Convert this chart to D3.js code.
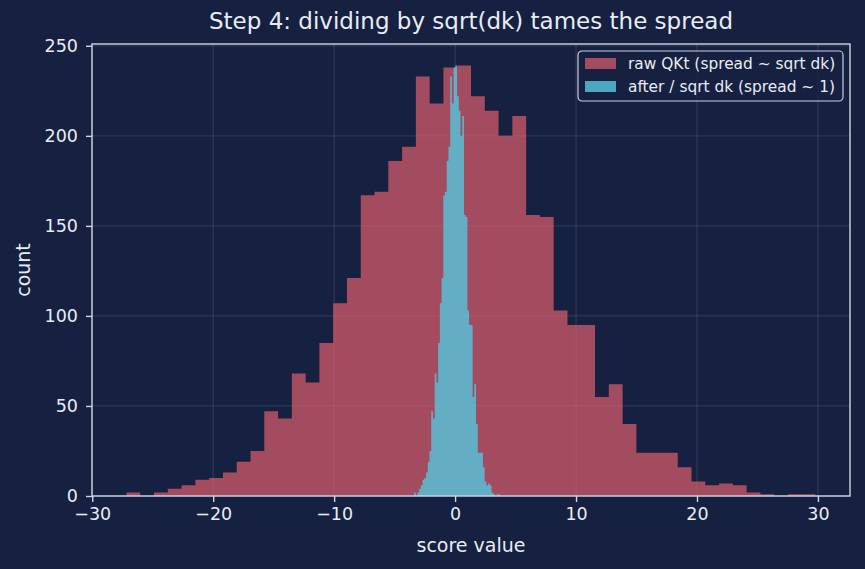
<!DOCTYPE html>
<html lang="en">
<head>
    <meta charset="UTF-8">
    <title>Step 4: dividing by sqrt(dk) tames the spread</title>
    <script src="https://d3js.org/d3.v7.min.js"></script>
    <style>
      body { margin: 0; background: #162040; }
      text { font-family: "DejaVu Sans", sans-serif; fill: #e8ecf3; }
    </style>
</head>
<body>
  <script>

    // histogram counts, 50 bins each
    var rawCounts = [2, 0, 2, 4, 6, 9, 10, 13, 19, 25,
                     47, 43, 68, 63, 85, 107, 121, 167, 169, 186,
                     194, 233, 218, 238, 239, 222, 214, 200, 211, 156,
                     155, 103, 95, 95, 55, 62, 40, 24, 24, 24,
                     16, 8, 6, 7, 6, 2, 1, 0, 1, 1];
    var scaledCounts = [2, 0, 2, 4, 6, 9, 10, 13, 19, 25,
                        47, 43, 68, 63, 85, 107, 121, 167, 169, 186,
                        194, 233, 218, 238, 239, 222, 214, 200, 211, 156,
                        155, 103, 95, 95, 55, 62, 40, 24, 24, 24,
                        16, 8, 6, 7, 6, 2, 1, 0, 1, 1];

    // data range covered by the bins
    var rawRange = [-27.17, 29.80];
    var scaledRange = [-3.396, 3.725];

    // tick labels
    var xTicks = [-30, -20, -10, 0, 10, 20, 30];
    var yTicks = [0, 50, 100, 150, 200, 250];

    var seriesNames = ["raw QKt (spread ~ sqrt dk)", "after / sqrt dk (spread ~ 1)"];

    // set the dimensions and margins of the graph
    var margin = {top: 44, right: 15, bottom: 73, left: 92},
        width = 865 - margin.left - margin.right,
        height = 569 - margin.top - margin.bottom;

    var svg = d3.select("body")
      .append("svg")
        .attr("width", width + margin.left + margin.right)
        .attr("height", height + margin.top + margin.bottom)
        .style("background", "#162040");

    var g = svg.append("g")
        .attr("transform", "translate(" + margin.left + "," + margin.top + ")");

    var x = d3.scaleLinear()
        .domain([-30.02, 32.65])
        .range([0, width]);

    var y = d3.scaleLinear()
        .domain([0, 251])
        .range([height, 0]);

    // grid
    g.append("g")
        .selectAll("line.vx")
        .data(xTicks)
        .enter().append("line")
          .attr("x1", function(d) { return x(d); })
          .attr("x2", function(d) { return x(d); })
          .attr("y1", 0)
          .attr("y2", height)
          .attr("stroke", "#ffffff")
          .attr("stroke-opacity", 0.1)
          .attr("stroke-width", 1.3);

    g.append("g")
        .selectAll("line.hy")
        .data(yTicks)
        .enter().append("line")
          .attr("x1", 0)
          .attr("x2", width)
          .attr("y1", function(d) { return y(d); })
          .attr("y2", function(d) { return y(d); })
          .attr("stroke", "#ffffff")
          .attr("stroke-opacity", 0.1)
          .attr("stroke-width", 1.3);

    // turn counts + range into step points
    function binPoints(counts, range) {
      var w = (range[1] - range[0]) / counts.length;
      var pts = counts.map(function(c, i) { return {x0: range[0] + i * w, c: c}; });
      pts.push({x0: range[1], c: counts[counts.length - 1]});
      return pts;
    }

    var area = d3.area()
        .curve(d3.curveStepAfter)
        .x(function(d) { return x(d.x0); })
        .y0(y(0))
        .y1(function(d) { return y(d.c); });

    var colors = ["#e0606c", "#58c0d7"];
    var opac = [0.7, 0.85];

    g.append("path")
        .datum(binPoints(rawCounts, rawRange))
        .attr("d", area)
        .attr("fill", colors[0])
        .attr("fill-opacity", opac[0]);

    g.append("path")
        .datum(binPoints(scaledCounts, scaledRange))
        .attr("d", area)
        .attr("fill", colors[1])
        .attr("fill-opacity", opac[1]);

    // axes
    var xAxis = g.append("g")
        .attr("transform", "translate(0," + height + ")")
        .call(d3.axisBottom(x).tickValues(xTicks).tickSize(6).tickPadding(6).tickSizeOuter(0));

    var yAxis = g.append("g")
        .call(d3.axisLeft(y).tickValues(yTicks).tickSize(6).tickPadding(8).tickSizeOuter(0));

    [xAxis, yAxis].forEach(function(a) {
      a.select(".domain").remove();
      a.selectAll("line").attr("stroke", "#d0d6e4").attr("stroke-width", 1.4);
      a.selectAll("text")
        .style("font-family", "DejaVu Sans, sans-serif")
        .style("font-size", "17.5px")
        .attr("fill", "#e8ecf3");
    });

    // frame
    g.append("rect")
        .attr("width", width)
        .attr("height", height)
        .attr("fill", "none")
        .attr("stroke", "#d0d6e4")
        .attr("stroke-width", 1.4);

    // title and labels
    svg.append("text")
        .attr("x", margin.left + width / 2)
        .attr("y", 29)
        .attr("text-anchor", "middle")
        .style("font-size", "23px")
        .text("Step 4: dividing by sqrt(dk) tames the spread");

    svg.append("text")
        .attr("x", margin.left + width / 2)
        .attr("y", 552)
        .attr("text-anchor", "middle")
        .style("font-size", "19px")
        .text("score value");

    svg.append("text")
        .attr("transform", "translate(30," + (margin.top + height / 2) + ") rotate(-90)")
        .attr("text-anchor", "middle")
        .style("font-size", "19px")
        .text("count");

    // legend
    var legend = svg.append("g").attr("transform", "translate(578,51)");

    legend.append("rect")
        .attr("width", 265)
        .attr("height", 50)
        .attr("rx", 4)
        .attr("fill", "#162040")
        .attr("fill-opacity", 0.8)
        .attr("stroke", "#c8cfdf")
        .attr("stroke-width", 1.2);

    var items = legend.selectAll("g.item")
        .data(seriesNames)
        .enter().append("g")
          .attr("transform", function(d, i) { return "translate(0," + (7 + i * 23) + ")"; });

    items.append("rect")
        .attr("x", 7)
        .attr("width", 31)
        .attr("height", 11)
        .attr("fill", function(d, i) { return colors[i]; })
        .attr("fill-opacity", function(d, i) { return opac[i]; });

    items.append("text")
        .attr("x", 50)
        .attr("y", 5.5)
        .attr("dy", "0.35em")
        .style("font-size", "15.4px")
        .text(function(d) { return d; });
  </script>
</body>
</html>
